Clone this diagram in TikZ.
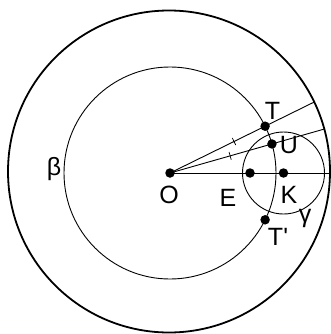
\documentclass[tikz,border=0pt]{standalone}
\usepackage{fontspec}
\setmainfont{Liberation Sans}
\usetikzlibrary{calc,intersections}
\begin{document}
\begin{tikzpicture}[x=1pt,y=-1pt,
  thin line/.style={line width=0.9pt},
  thick line/.style={line width=1.8pt},
  pt/.style={circle,fill=black,inner sep=0pt,minimum size=9.5pt},
  lbl/.style={font=\fontsize{25}{30}\selectfont,inner sep=0pt},
  tick/.style={line width=0.7pt}]
\useasboundingbox (0,0) rectangle (331,334);
% points
\coordinate (O) at (170,173);
\coordinate (C) at (169,171.5);
\coordinate (K) at (283.5,173);
\coordinate (E) at (250,173);
\coordinate (T) at ($(O)+(26.2:106 and -106)$);
\coordinate (U) at ($(O)+(15.9:106 and -106)$);
\coordinate (Tp) at ($(O)+(-26.2:106 and -106)$);
\coordinate (A3) at (331,173);
% circles
\draw[thick line, name path=outer] (C) circle[radius=161];
\draw[thin line] (O) circle[radius=106];
\draw[thin line] (K) circle[radius=41];
% rays to the outer circle
\path[name path=r1] (O) -- ($(O)+(26.2:200 and -200)$);
\path[name path=r2] (O) -- ($(O)+(15.9:200 and -200)$);
\path[name intersections={of=outer and r1, by=A1}];
\path[name intersections={of=outer and r2, by=A2}];
\draw[thin line] (O) -- (A1);
\draw[thin line] (O) -- (A2);
\draw[thin line] (O) -- (A3);
% ticks
\draw[tick] ($(O)!0.673!(T)!4pt!90:(T)$) -- ($(O)!0.673!(T)!4pt!-90:(T)$);
\draw[tick] ($(O)!0.59!(U)!4pt!90:(U)$) -- ($(O)!0.59!(U)!4pt!-90:(U)$);
% dots
\node[pt] (nO) at (O) {};
\node[pt] (nE) at (E) {};
\node[pt] (nK) at (K) {};
\node[pt] (nT) at (T) {};
\node[pt] (nU) at (U) {};
\node[pt] (nTp) at (Tp) {};
% labels
\node[lbl] (lT) at (272.5,111) {T};
\node[lbl] (lU) at (289,145) {U};
\node[lbl] (lb) at (54,169) {β};
\node[lbl] (lO) at (169,194.5) {O};
\node[lbl] (lE) at (228,197.5) {E};
\node[lbl] (lK) at (289,194.5) {K};
\node[lbl] (lg) at (305,218) {γ};
\node[lbl] (lTp) at (278,237) {T\textquotesingle};
\end{tikzpicture}
\end{document}
